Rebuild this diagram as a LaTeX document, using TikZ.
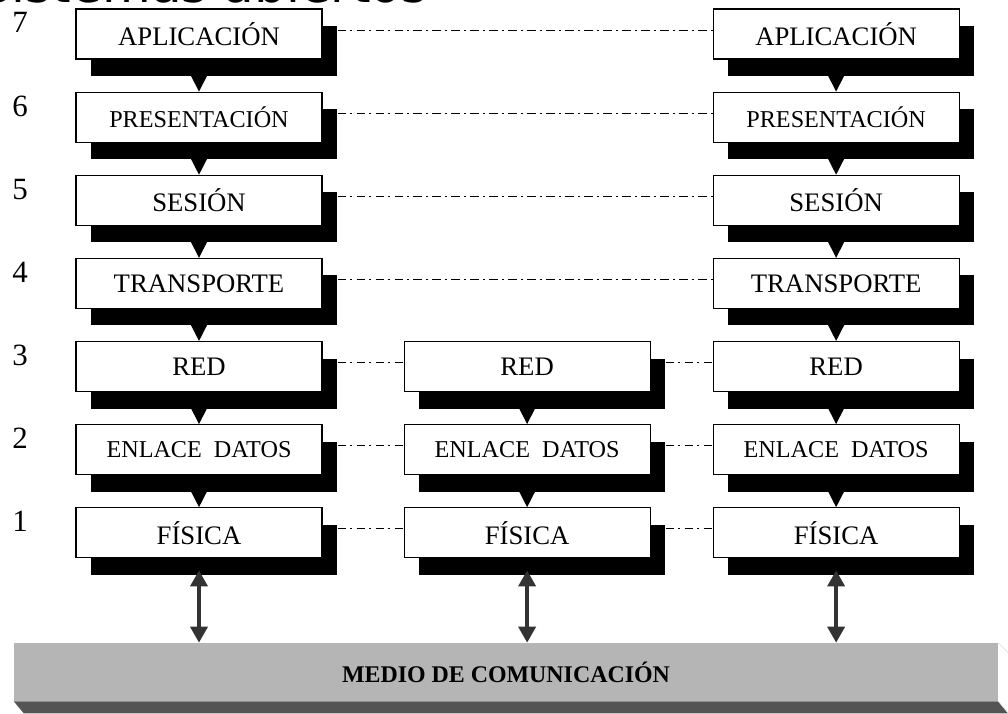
\documentclass[tikz,border=0pt]{standalone}
\usepackage{fontspec}
\setmainfont{Liberation Serif}
\newfontfamily\titlefont{DejaVu Sans}
\usepackage{tikz}
\usetikzlibrary{arrows.meta, positioning, shadows}
\colorlet{colorMedio}{black!29}
\colorlet{colorCara}{black!67}
\colorlet{colorFlecha}{black!80}
\tikzset{
  capa/.style={draw, thick, fill=white, minimum width=6.15cm, minimum height=1.25cm, inner sep=0pt,
    font=\fontsize{19}{21}\selectfont,
    drop shadow={shadow xshift=0.375cm, shadow yshift=-0.425cm, fill=black, opacity=1}},
  capachica/.style={capa, font=\fontsize{17.2}{19}\selectfont},
  nivel/.style={inner sep=0pt, font=\fontsize{22}{24}\selectfont},
  par/.style={line width=0.6pt, dash pattern=on 6pt off 3pt on 1.5pt off 3pt},
  baja/.style={-{Triangle[width=0.42cm,length=0.42cm]}, line width=1pt},
  enlace/.style={{Triangle[width=0.42cm,length=0.4cm]}-{Triangle[width=0.42cm,length=0.4cm]}, colorFlecha, line width=0.11cm},
  medio/.style={fill=colorMedio, minimum width=24.6cm, minimum height=1.45cm, inner sep=0pt,
    font=\fontsize{17}{19}\selectfont\bfseries}
}

\begin{document}
\begin{tikzpicture}[node distance=0.8cm]
\useasboundingbox (0,0) rectangle (25.2,-17.825);
\node[anchor=base east, inner sep=0pt, font=\titlefont\fontsize{35.6}{40}\selectfont] (titulo) at (10.7,-0.06) {Sistemas abiertos};
% niveles
\foreach \n in {1,...,7}
  \node[nivel] (n\n) at (0.5,{-0.57-(7-\n)*2.079}) {\n};
% sistema origen
\node[capa] (a7) at (4.975,-0.85) {APLICACIÓN};
\node[capachica, below=of a7] (a6) {PRESENTACIÓN};
\node[capa, below=of a6] (a5) {SESIÓN};
\node[capa, below=of a5] (a4) {TRANSPORTE};
\node[capa, below=of a4] (a3) {RED};
\node[capachica, below=of a3] (a2) {ENLACE\ \ DATOS};
\node[capa, below=of a2] (a1) {FÍSICA};
% nodo intermedio
\node[capa, right=2.025cm of a3] (m3) {RED};
\node[capachica, below=of m3] (m2) {ENLACE\ \ DATOS};
\node[capa, below=of m2] (m1) {FÍSICA};
% sistema destino
\node[capa, right=9.75cm of a7] (r7) {APLICACIÓN};
\node[capachica, below=of r7] (r6) {PRESENTACIÓN};
\node[capa, below=of r6] (r5) {SESIÓN};
\node[capa, below=of r5] (r4) {TRANSPORTE};
\node[capa, below=of r4] (r3) {RED};
\node[capachica, below=of r3] (r2) {ENLACE\ \ DATOS};
\node[capa, below=of r2] (r1) {FÍSICA};
% medio
\node[medio] (medio) at (12.65,-16.8) {MEDIO DE COMUNICACIÓN};
\fill[colorCara] (medio.south west) -- (medio.south east) -- ++(0.25,-0.3) -- ([shift={(0.25,-0.3)}]medio.south west) -- cycle;
\draw[black!15, fill=white] (medio.north east) -- ++(0.25,-0.25) -- ([shift={(0.25,-0.3)}]medio.south east) -- (medio.south east);
% flujo entre capas
\draw[baja] (a7) -- (a6);
\draw[baja] (a6) -- (a5);
\draw[baja] (a5) -- (a4);
\draw[baja] (a4) -- (a3);
\draw[baja] (a3) -- (a2);
\draw[baja] (a2) -- (a1);
\draw[baja] (m3) -- (m2);
\draw[baja] (m2) -- (m1);
\draw[baja] (r7) -- (r6);
\draw[baja] (r6) -- (r5);
\draw[baja] (r5) -- (r4);
\draw[baja] (r4) -- (r3);
\draw[baja] (r3) -- (r2);
\draw[baja] (r2) -- (r1);
% protocolos entre pares
\draw[par] ([xshift=0.375cm,yshift=0.1cm]a7.east) -- ([yshift=0.1cm]r7.west);
\draw[par] ([xshift=0.375cm,yshift=0.1cm]a6.east) -- ([yshift=0.1cm]r6.west);
\draw[par] ([xshift=0.375cm,yshift=0.1cm]a5.east) -- ([yshift=0.1cm]r5.west);
\draw[par] ([xshift=0.375cm,yshift=0.1cm]a4.east) -- ([yshift=0.1cm]r4.west);
\draw[par] ([xshift=0.375cm,yshift=0.1cm]a3.east) -- ([yshift=0.1cm]m3.west);
\draw[par] ([xshift=0.375cm,yshift=0.1cm]a2.east) -- ([yshift=0.1cm]m2.west);
\draw[par] ([xshift=0.375cm,yshift=0.1cm]a1.east) -- ([yshift=0.1cm]m1.west);
\draw[par] ([xshift=0.375cm,yshift=0.1cm]m3.east) -- ([yshift=0.1cm]r3.west);
\draw[par] ([xshift=0.375cm,yshift=0.1cm]m2.east) -- ([yshift=0.1cm]r2.west);
\draw[par] ([xshift=0.375cm,yshift=0.1cm]m1.east) -- ([yshift=0.1cm]r1.west);
% acceso al medio
\draw[enlace] ([yshift=-0.3cm]a1.south) -- (a1 |- medio.north);
\draw[enlace] ([yshift=-0.3cm]m1.south) -- (m1 |- medio.north);
\draw[enlace] ([yshift=-0.3cm]r1.south) -- (r1 |- medio.north);
\end{tikzpicture}
\end{document}
